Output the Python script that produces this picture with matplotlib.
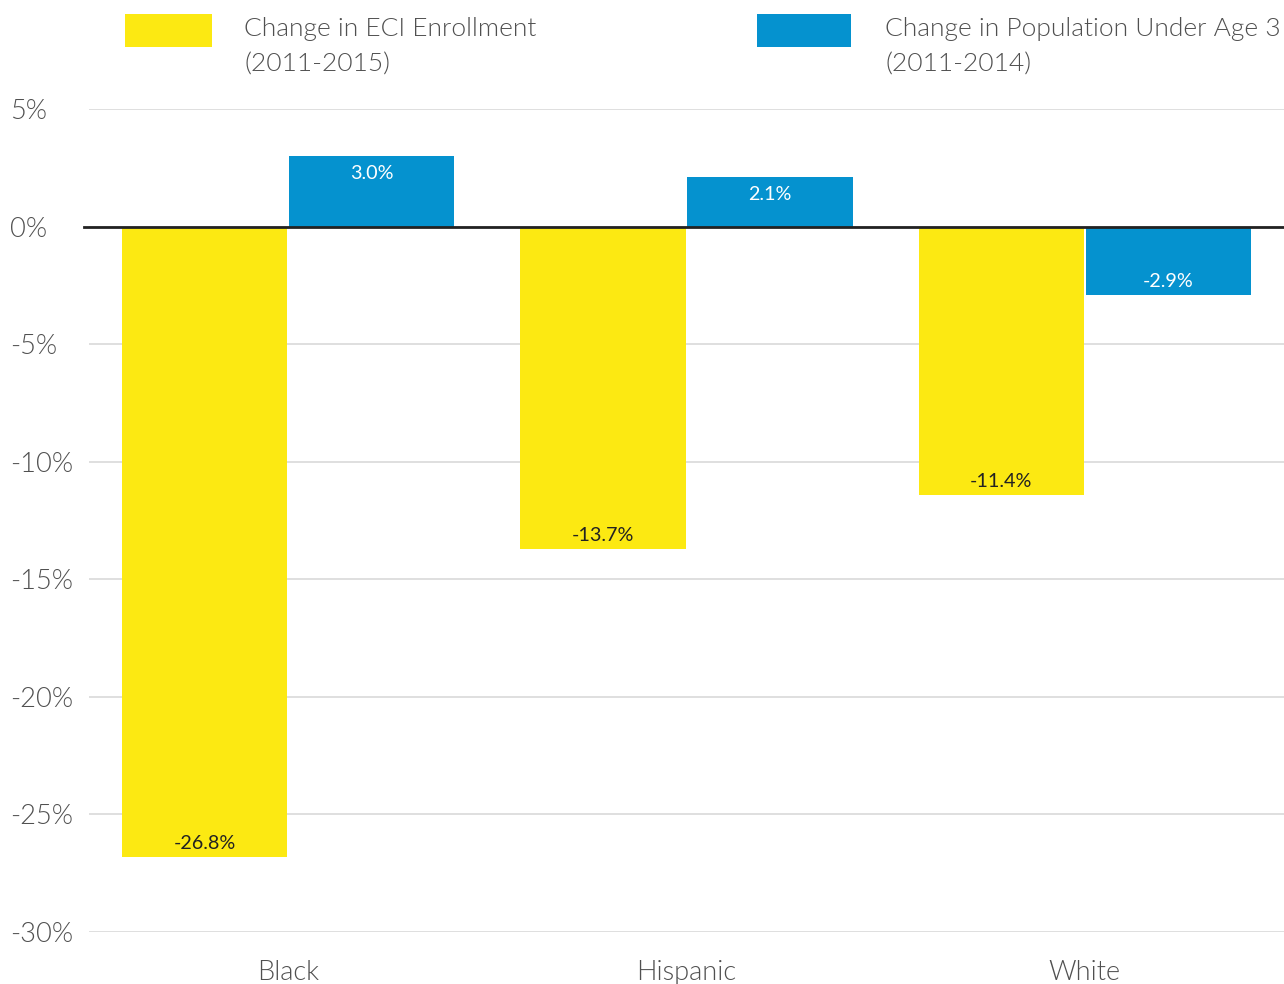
import matplotlib
matplotlib.use("Agg")
import matplotlib.pyplot as plt
from matplotlib.patches import Rectangle
from matplotlib import font_manager as fm
import numpy as np

categories = ["Black", "Hispanic", "White"]
eci_enrollment = [-26.8, -13.7, -11.4]
population_under3 = [3.0, 2.1, -2.9]
series_labels = ["Change in ECI Enrollment\n(2011-2015)",
                 "Change in Population Under Age 3\n(2011-2014)"]
yticks = [5, 0, -5, -10, -15, -20, -25, -30]
ytick_labels = ["5%", "0%", "-5%", "-10%", "-15%", "-20%", "-25%", "-30%"]

YELLOW = "#FCE912"
BLUE = "#0592CF"
TXT = "#505050"
W, H = 1284, 984

light_path = None
for f in fm.fontManager.ttflist:
    if f.fname.endswith("Lato-Light.ttf"):
        light_path = f.fname
        break

def light(size):
    if light_path:
        return fm.FontProperties(fname=light_path, size=size)
    return fm.FontProperties(family="Lato", weight=300, size=size)

plt.rcParams['font.family'] = ['Lato', 'DejaVu Sans']
fig = plt.figure(figsize=(W / 100, H / 100), dpi=100)
ax = fig.add_axes([89 / W, (H - 932) / H, (W - 89) / W, (932 - 109) / H])

x = np.arange(len(categories))
bw = 0.415
off = 0.21
ax.bar(x - off, eci_enrollment, bw, color=YELLOW, zorder=2)
ax.bar(x + off, population_under3, bw, color=BLUE, zorder=2)

ax.set_xlim(-0.5, 2.5)
ax.set_ylim(-30, 5)
ax.set_yticks(yticks)
ax.set_yticklabels(ytick_labels)
ax.yaxis.grid(True, color="#d9d9d9", linewidth=1.2, zorder=0)
ax.set_axisbelow(True)
for s in ax.spines.values():
    s.set_visible(False)
ax.tick_params(axis='y', length=0, pad=57, labelcolor=TXT)
for t in ax.get_yticklabels():
    t.set_horizontalalignment('left')
    t.set_fontproperties(light(19.6))
ax.set_xticks(x)
ax.set_xticklabels(categories)
ax.tick_params(axis='x', length=0, pad=20, labelcolor=TXT)
for t in ax.get_xticklabels():
    t.set_fontproperties(light(19.5))

ax.axhline(0, xmin=-5 / (W - 89), xmax=1, color="#222222", linewidth=2, zorder=3, clip_on=False)

def px_to_data(px):
    return px * 35 / (932 - 109)

for xs, vals, col in [(x - off, eci_enrollment, "#222222"), (x + off, population_under3, "white")]:
    for xi, v in zip(xs, vals):
        if v >= 0:
            y = v - px_to_data(17)
        else:
            y = v + px_to_data(13)
        ax.text(xi, y, f"{v:.1f}%", ha='center', va='center', fontsize=14.2, color=col, zorder=4)

# legend
for (x0, x1, tx, col, lab) in [(125, 212, 244, YELLOW, series_labels[0]),
                               (757, 851, 885, BLUE, series_labels[1])]:
    fig.add_artist(Rectangle((x0 / W, (H - 47) / H), (x1 - x0) / W, 33 / H,
                             transform=fig.transFigure, color=col, lw=0))
    fig.text(tx / W, (H - 17) / H, lab, ha='left', va='top', fontproperties=light(19),
             color=TXT, linespacing=1.6)

fig.savefig("out.png", dpi=100, facecolor="white")
